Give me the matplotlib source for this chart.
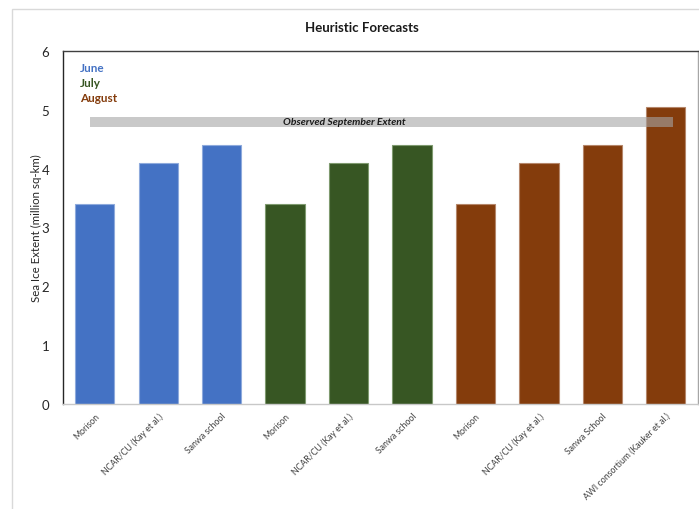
import matplotlib.pyplot as plt
from matplotlib.patches import Rectangle

# forecasts (million sq-km) by submitting month
labels = ['Morison', 'NCAR/CU (Kay et al.)', 'Sanwa school',
          'Morison', 'NCAR/CU (Kay et al.)', 'Sanwa school',
          'Morison', 'NCAR/CU (Kay et al.)', 'Sanwa School',
          'AWI consortium (Kauker et al.)']
values = [3.4, 4.1, 4.4,
          3.4, 4.1, 4.4,
          3.4, 4.1, 4.4, 5.05]
months = ['June', 'July', 'August']
month_of_bar = [0, 0, 0, 1, 1, 1, 2, 2, 2, 2]
month_colors = ['#4472C4', '#375623', '#843C0C']
month_edges = ['#8eaadc', '#7f9a6f', '#b5866a']
observed = 4.8

plt.rcParams['font.family'] = ['Lato', 'DejaVu Sans']

fig = plt.figure(figsize=(6.99, 5.10), dpi=100)
# outer chart frame
fig.patches.append(Rectangle((12 / 699, -0.1), 1.2, 1 - 10 / 510 + 0.1,
                             transform=fig.transFigure, fill=False,
                             edgecolor='#d9d9d9', linewidth=1.0))

ax = fig.add_axes([63 / 699, 1 - 405 / 510, (697.5 - 63) / 699, (405 - 52) / 510])

x = list(range(len(values)))
ax.bar(x, values, width=0.62,
       color=[month_colors[m] for m in month_of_bar],
       edgecolor=[month_edges[m] for m in month_of_bar],
       linewidth=0.8, zorder=2)

# observed september extent band
ax.barh(observed, 9.12 + 0.075, left=-0.075, height=0.17,
        color='#a5a5a5', alpha=0.6, zorder=3)
ax.text(3.94, observed, 'Observed September Extent', ha='center', va='center',
        fontsize=7.5, fontweight='bold', fontstyle='italic', color='#1a1a1a', zorder=4)

for i, (m, c) in enumerate(zip(months, month_colors)):
    fig.text(80 / 699, 1 - (68 + i * 15.5) / 510, m, fontsize=8.5, fontweight='bold',
             color=c, ha='left', va='center')

ax.set_xlim(-0.5, 9.5)
ax.set_ylim(0, 6)
ax.set_yticks(range(7))
ax.tick_params(axis='y', length=0, labelsize=9.5, pad=10, labelcolor='#262626')
ax.set_xticks(x)
ax.set_xticklabels(labels, rotation=45, ha='right', rotation_mode='anchor',
                   fontsize=6.3, color='#404040')
ax.tick_params(axis='x', length=0, pad=5)
ax.set_ylabel('Sea Ice Extent (million sq-km)', fontsize=8.3, color='#262626', va='center')
ax.yaxis.set_label_coords(-27 / (697.5 - 63), 0.5)

ax.spines['left'].set_color('#262626')
ax.spines['top'].set_color('#404040')
ax.spines['right'].set_color('#a6a6a6')
ax.spines['bottom'].set_color('#c8c8c8')
for s in ax.spines.values():
    s.set_linewidth(1.0)

fig.text(362 / 699, 1 - 28 / 510, 'Heuristic Forecasts', ha='center', va='center',
         fontsize=9.5, fontweight='bold', color='#1a1a1a')

fig.savefig('out.png', dpi=100)
